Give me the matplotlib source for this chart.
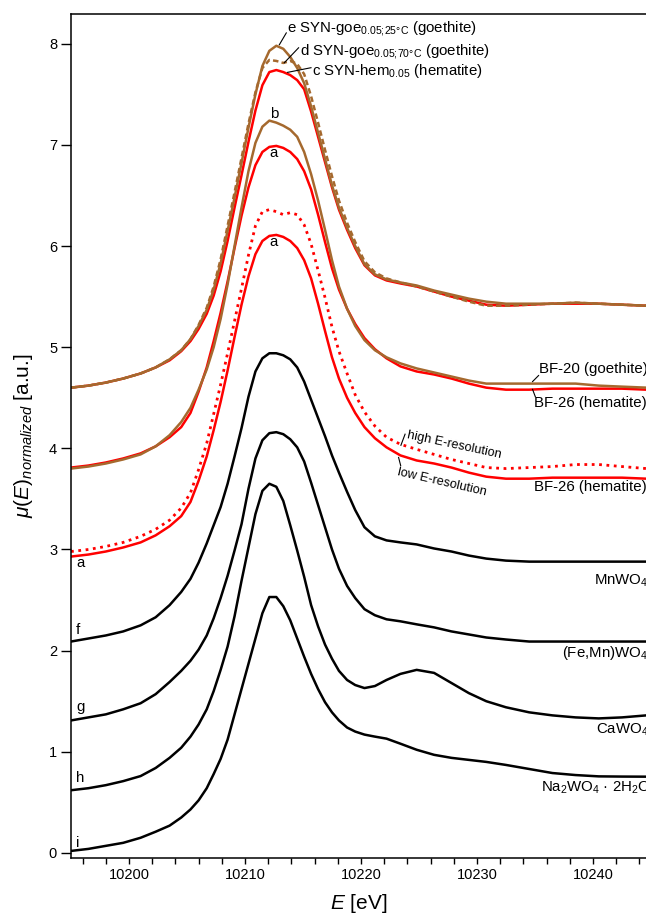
import matplotlib
matplotlib.use('Agg')
import matplotlib.pyplot as plt
from matplotlib.ticker import MultipleLocator

plt.rcParams['font.family'] = ['Liberation Sans', 'DejaVu Sans']
plt.rcParams['mathtext.fontset'] = 'custom'
plt.rcParams['mathtext.rm'] = 'Liberation Sans'
plt.rcParams['mathtext.it'] = 'Liberation Sans:italic'
plt.rcParams['mathtext.default'] = 'regular'

E = [10195.0, 10196.5, 10198.0, 10199.5, 10201.0, 10202.3, 10203.5, 10204.5, 10205.3, 10206.0,
     10206.7, 10207.3, 10207.9, 10208.5, 10209.1, 10209.7, 10210.3, 10210.9, 10211.5, 10212.1,
     10212.7, 10213.3, 10213.9, 10214.5, 10215.1, 10215.7, 10216.3, 10216.9, 10217.5, 10218.1,
     10218.8, 10219.5, 10220.3, 10221.2, 10222.2, 10223.4, 10224.8, 10226.3, 10227.8, 10229.3,
     10230.8, 10232.5, 10234.5, 10236.5, 10238.5, 10240.5, 10242.5, 10244.6]

# e SYN-goe 25C, d SYN-goe 70C, c SYN-hem (top stack)
e_mu = [4.60, 4.62, 4.65, 4.69, 4.74, 4.80, 4.88, 4.97, 5.08, 5.21,
        5.37, 5.57, 5.83, 6.15, 6.48, 6.82, 7.17, 7.50, 7.78, 7.93,
        7.98, 7.95, 7.87, 7.76, 7.61, 7.38, 7.12, 6.86, 6.60, 6.38,
        6.18, 6.00, 5.82, 5.72, 5.67, 5.64, 5.61, 5.56, 5.52, 5.48,
        5.45, 5.43, 5.43, 5.43, 5.44, 5.43, 5.42, 5.41]
d_mu = [4.60, 4.62, 4.65, 4.69, 4.74, 4.80, 4.88, 4.97, 5.08, 5.22,
        5.39, 5.60, 5.87, 6.20, 6.53, 6.87, 7.21, 7.52, 7.76, 7.84,
        7.83, 7.81, 7.83, 7.80, 7.70, 7.48, 7.22, 6.95, 6.69, 6.45,
        6.23, 6.04, 5.85, 5.74, 5.68, 5.64, 5.60, 5.55, 5.50, 5.45,
        5.41, 5.41, 5.42, 5.43, 5.44, 5.43, 5.42, 5.41]
c_mu = [4.60, 4.62, 4.65, 4.69, 4.74, 4.80, 4.87, 4.96, 5.06, 5.18,
        5.33, 5.51, 5.75, 6.05, 6.38, 6.70, 7.03, 7.34, 7.59, 7.72,
        7.74, 7.72, 7.69, 7.64, 7.55, 7.33, 7.08, 6.83, 6.58, 6.36,
        6.16, 5.98, 5.81, 5.71, 5.66, 5.63, 5.60, 5.55, 5.50, 5.46,
        5.42, 5.41, 5.42, 5.43, 5.43, 5.43, 5.42, 5.41]

# b BF-20 (goethite)
b_mu = [3.80, 3.82, 3.85, 3.89, 3.94, 4.02, 4.13, 4.26, 4.40, 4.58,
        4.78, 5.00, 5.28, 5.62, 6.00, 6.38, 6.74, 7.02, 7.18, 7.24,
        7.22, 7.19, 7.15, 7.08, 6.93, 6.71, 6.45, 6.16, 5.86, 5.60,
        5.38, 5.21, 5.07, 4.97, 4.90, 4.84, 4.79, 4.75, 4.71, 4.67,
        4.64, 4.64, 4.64, 4.64, 4.64, 4.62, 4.61, 4.60]

# a BF-26 (hematite), low and high E-resolution
a_low_mu = [2.93, 2.95, 2.98, 3.02, 3.07, 3.14, 3.23, 3.33, 3.47, 3.68,
            3.92, 4.18, 4.46, 4.77, 5.10, 5.42, 5.70, 5.92, 6.05, 6.10,
            6.11, 6.09, 6.05, 5.98, 5.86, 5.68, 5.43, 5.16, 4.90, 4.69,
            4.50, 4.35, 4.21, 4.10, 4.01, 3.93, 3.88, 3.85, 3.81, 3.76,
            3.72, 3.70, 3.70, 3.71, 3.71, 3.71, 3.71, 3.70]
a_high_mu = [2.98, 3.00, 3.03, 3.07, 3.13, 3.20, 3.29, 3.41, 3.56, 3.79,
             4.05, 4.34, 4.63, 4.94, 5.26, 5.58, 5.91, 6.20, 6.34, 6.36,
             6.34, 6.31, 6.33, 6.31, 6.21, 6.02, 5.76, 5.49, 5.20, 4.96,
             4.74, 4.53, 4.36, 4.22, 4.11, 4.04, 3.99, 3.94, 3.89, 3.85,
             3.81, 3.80, 3.81, 3.82, 3.84, 3.84, 3.82, 3.80]
a_shift = 0.88   # BF-26 shown again next to BF-20

# tungstate references: f MnWO4, g (Fe,Mn)WO4, h CaWO4, i Na2WO4*2H2O
f_mu = [2.09, 2.12, 2.15, 2.19, 2.25, 2.33, 2.45, 2.58, 2.71, 2.87,
        3.06, 3.24, 3.42, 3.65, 3.92, 4.20, 4.51, 4.76, 4.89, 4.94,
        4.94, 4.92, 4.88, 4.80, 4.66, 4.48, 4.30, 4.12, 3.93, 3.76,
        3.57, 3.39, 3.22, 3.13, 3.09, 3.07, 3.05, 3.01, 2.98, 2.94,
        2.91, 2.89, 2.88, 2.88, 2.88, 2.88, 2.88, 2.88]
g_mu = [1.31, 1.34, 1.37, 1.42, 1.48, 1.57, 1.69, 1.80, 1.90, 2.01,
        2.15, 2.32, 2.52, 2.74, 2.99, 3.25, 3.60, 3.90, 4.08, 4.15,
        4.16, 4.14, 4.09, 4.01, 3.87, 3.66, 3.44, 3.22, 3.00, 2.81,
        2.64, 2.52, 2.41, 2.35, 2.31, 2.29, 2.26, 2.23, 2.19, 2.16,
        2.13, 2.11, 2.09, 2.09, 2.09, 2.09, 2.09, 2.09]
h_mu = [0.62, 0.64, 0.67, 0.71, 0.76, 0.84, 0.94, 1.04, 1.15, 1.27,
        1.42, 1.60, 1.81, 2.04, 2.34, 2.69, 3.02, 3.35, 3.58, 3.65,
        3.62, 3.48, 3.24, 2.99, 2.73, 2.45, 2.24, 2.06, 1.92, 1.80,
        1.71, 1.66, 1.63, 1.65, 1.71, 1.77, 1.81, 1.78, 1.68, 1.58,
        1.50, 1.44, 1.39, 1.36, 1.34, 1.33, 1.34, 1.36]
i_mu = [0.02, 0.04, 0.07, 0.10, 0.15, 0.21, 0.27, 0.35, 0.43, 0.52,
        0.64, 0.78, 0.93, 1.12, 1.37, 1.62, 1.87, 2.12, 2.37, 2.53,
        2.53, 2.44, 2.30, 2.12, 1.94, 1.77, 1.62, 1.49, 1.39, 1.31,
        1.24, 1.20, 1.17, 1.15, 1.13, 1.08, 1.02, 0.97, 0.94, 0.92,
        0.90, 0.87, 0.83, 0.79, 0.77, 0.757, 0.755, 0.754]

brown = '#a5692e'
red = '#ff0000'

fig = plt.figure(figsize=(6.46, 9.22), dpi=100)
ax = fig.add_axes([71 / 646, 1 - 858 / 922, 575 / 646, 844 / 922])

lw = 1.8
# top group
ax.plot(E, c_mu, color=red, lw=lw)
ax.plot(E, e_mu, color=brown, lw=lw)
ax.plot(E, d_mu, color=brown, lw=lw, ls=(0, (2.2, 1.3)))
# BF-20 / BF-26
ax.plot(E, [v + a_shift for v in a_low_mu], color=red, lw=lw)
ax.plot(E, b_mu, color=brown, lw=lw)
# BF-26 resolution
ax.plot(E, a_high_mu, color=red, lw=2.0, ls=':')
ax.plot(E, a_low_mu, color=red, lw=lw)
# references
for mu in (f_mu, g_mu, h_mu, i_mu):
    ax.plot(E, mu, color='black', lw=lw)

ax.set_xlim(10195, 10244.57)
ax.set_ylim(-0.05, 8.294)
ax.xaxis.set_major_locator(MultipleLocator(10))
ax.xaxis.set_minor_locator(MultipleLocator(2))
ax.yaxis.set_major_locator(MultipleLocator(1))
ax.tick_params(axis='x', which='major', direction='out', length=4.5, width=1, labelsize=10.5, pad=3)
ax.tick_params(axis='x', which='minor', direction='out', length=4.5, width=1)
ax.tick_params(axis='y', which='major', direction='out', length=7, width=1, labelsize=10.5, pad=3)
ax.spines['right'].set_visible(False)
for s in ('left', 'bottom', 'top'):
    ax.spines[s].set_linewidth(1.1)

ax.set_xlabel(r'$\mathit{E}$ [eV]', fontsize=15, labelpad=7)
ax.set_ylabel(r'$\mathit{\mu(E)}_{\mathit{normalized}}$ [a.u.]', fontsize=15, labelpad=10)

fs = 10.8
lk = dict(color='black', lw=0.8)
# top annotations
ax.plot([10212.96, 10213.56], [7.99, 8.107], **lk)
ax.text(10213.62, 8.113, r'e SYN-goe$_{0.05;\!25°C}$ (goethite)', fontsize=fs, va='baseline')
ax.plot([10213.39, 10214.62], [7.812, 7.96], **lk)
ax.text(10214.72, 7.888, r'd SYN-goe$_{0.05;\!70°C}$ (goethite)', fontsize=fs, va='baseline')
ax.plot([10213.67, 10215.69], [7.717, 7.763], **lk)
ax.text(10215.78, 7.69, 'c SYN-hem$_{0.05}$ (hematite)', fontsize=fs, va='baseline')

ax.text(10212.5, 7.31, 'b', fontsize=fs, ha='center', va='center')
ax.text(10212.45, 6.92, 'a', fontsize=fs, ha='center', va='center')
ax.text(10212.45, 6.04, 'a', fontsize=fs, ha='center', va='center')

# right annotations (cut at the right edge, as in the source figure)
ax.plot([10234.79, 10235.31], [4.66, 4.72], **lk)
ax.text(10235.37, 4.785, 'BF-20 (goethite)', fontsize=fs, va='center')
ax.plot([10234.79, 10235.03], [4.583, 4.51], **lk)
ax.text(10234.94, 4.448, 'BF-26 (hematite)', fontsize=fs, va='center')
ax.text(10234.94, 3.617, 'BF-26 (hematite)', fontsize=fs, va='center')

ax.plot([10223.44, 10223.8], [4.03, 4.14], **lk)
ax.text(10223.95, 4.13, 'high E-resolution', fontsize=9.2, va='center', ha='left',
        rotation=-12, rotation_mode='anchor')
ax.plot([10223.24, 10223.42], [3.91, 3.83], **lk)
ax.text(10223.2, 3.77, 'low E-resolution', fontsize=9.2, va='center', ha='left',
        rotation=-13, rotation_mode='anchor')

ax.text(10240.1, 2.688, 'MnWO$_4$', fontsize=fs, va='center')
ax.text(10237.35, 1.98, '(Fe,Mn)WO$_4$', fontsize=fs, va='center')
ax.text(10240.27, 1.215, 'CaWO$_4$', fontsize=fs, va='center')
ax.text(10235.55, 0.642, 'Na$_2$WO$_4$ · 2H$_2$O', fontsize=fs, va='center')

# curve letters at the left
for lab, yv in (('a', 2.866), ('f', 2.204), ('g', 1.44), ('h', 0.74), ('i', 0.10)):
    ax.text(10195.45, yv, lab, fontsize=fs, va='center')

plt.savefig('out.png', dpi=100)
